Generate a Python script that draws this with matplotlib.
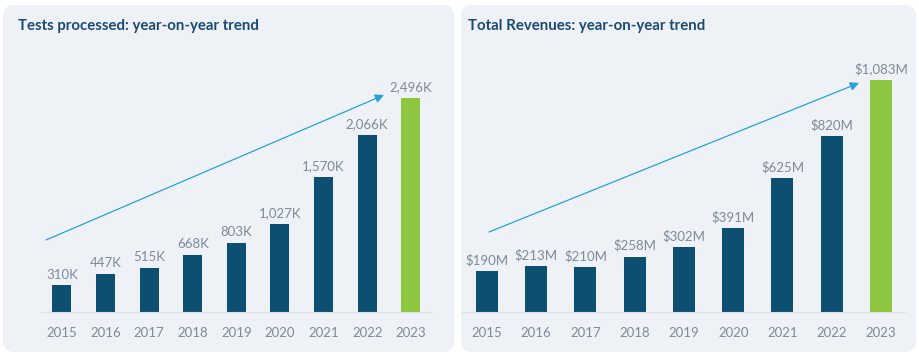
import matplotlib
matplotlib.use("Agg")
import matplotlib.pyplot as plt
from matplotlib.patches import FancyBboxPatch, FancyArrowPatch

plt.rcParams['font.family'] = ['Lato', 'DejaVu Sans']

years = ["2015", "2016", "2017", "2018", "2019", "2020", "2021", "2022", "2023"]
tests = [310, 447, 515, 668, 803, 1027, 1570, 2066, 2496]
tests_labels = ["310K", "447K", "515K", "668K", "803K", "1,027K", "1,570K", "2,066K", "2,496K"]
revenues = [190, 213, 210, 258, 302, 391, 625, 820, 1083]
revenue_labels = ["$190M", "$213M", "$210M", "$258M", "$302M", "$391M", "$625M", "$820M", "$1,083M"]
titles = ["Tests processed: year-on-year trend", "Total Revenues: year-on-year trend"]

W, H = 920, 357
fig = plt.figure(figsize=(W / 100, H / 100), dpi=100)
fig.patch.set_facecolor("white")

PANEL = "#EEF2F6"
NAVY = "#0D4F70"
GREEN = "#8DC63F"
TXT = "#7D8A99"
TITLE = "#1A4A73"
ARROW = "#2A9FD8"

def fx(px):
    return px / W

def fy(py):
    return 1 - py / H

# background axes for panels
bg = fig.add_axes([0, 0, 1, 1], zorder=-5)
bg.set_xlim(0, W)
bg.set_ylim(H, 0)
bg.axis("off")
for (x0, x1) in [(3, 454), (461, 916)]:
    bg.add_patch(FancyBboxPatch((x0, 5), x1 - x0, 352 - 5,
                                boxstyle="round,pad=0,rounding_size=11",
                                facecolor=PANEL, edgecolor="none"))

def panel(ax_px, values, labels, title, title_x, center_px, bar_px, arrow):
    x0, x1, ytop, ybase, spacing = ax_px
    ax = fig.add_axes([fx(x0), fy(ybase), fx(x1 - x0), (ybase - ytop) / H], zorder=2)
    ax.patch.set_alpha(0)
    xs = list(range(len(values)))
    colors = [NAVY] * (len(values) - 1) + [GREEN]
    ax.bar(xs, values, width=bar_px / spacing, color=colors, zorder=2)
    ax.set_xlim((x0 - center_px) / spacing, (x1 - center_px) / spacing)
    top_h = ybase - ytop
    ax.set_ylim(0, values[-1] * top_h / arrow[4])
    for x, v, lab in zip(xs, values, labels):
        ax.annotate(lab, (x, v), xytext=(0, 3.5), textcoords="offset points",
                    ha="center", va="bottom", fontsize=9.5, color=TXT)
    ax.set_xticks(xs)
    ax.set_xticklabels(years, fontsize=9.5, color=TXT)
    ax.tick_params(axis="x", length=0, pad=11)
    ax.set_yticks([])
    for s in ["top", "right", "left"]:
        ax.spines[s].set_visible(False)
    ax.spines["bottom"].set_color("#DCE2E8")
    ax.spines["bottom"].set_linewidth(0.8)
    bg.text(title_x, 26, title, fontsize=10.8, fontweight="bold",
            color=TITLE, ha="left", va="center")
    bg.add_patch(FancyArrowPatch(
        (arrow[0], arrow[1]), (arrow[2], arrow[3]),
        arrowstyle="-|>,head_length=4,head_width=2",
        mutation_scale=1.3, color=ARROW, lw=0.9, shrinkA=0, shrinkB=0))
    return ax

panel((41, 432, 60, 312, 43.6), tests, tests_labels, titles[0], 18, 62, 19,
      (46, 240, 384, 95, 214))
panel((462, 905, 60, 312, 49.25), revenues, revenue_labels, titles[1], 468, 487, 22,
      (489, 232, 859, 83, 232))

fig.savefig("out.png", dpi=100, facecolor="white")
